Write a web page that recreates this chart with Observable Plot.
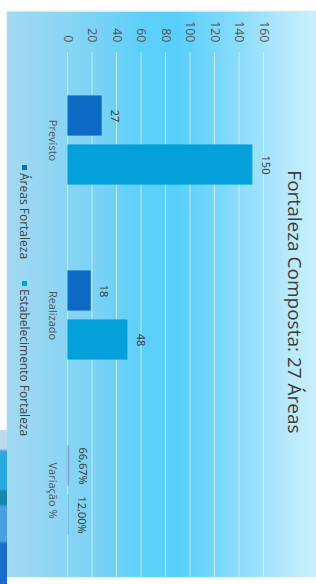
<!DOCTYPE html>
<html><head><meta charset="utf-8">
<script src="https://cdn.jsdelivr.net/npm/d3@7"></script>
<script src="https://cdn.jsdelivr.net/npm/@observablehq/plot@0.6"></script>
<style>
html,body{margin:0;padding:0;background:#fff;overflow:hidden;width:316px;height:584px}
#rot{position:absolute;left:0;top:0;width:584px;height:316px;transform-origin:0 0;transform:translate(316px,0) rotate(90deg);font-family:"Open Sans",sans-serif}
#panel{position:absolute;left:12px;top:0;width:565px;height:309px;
  background:linear-gradient(to bottom,#cbf0fd 0%,#b5e8fc 10%,#8adcfb 25%,#58cffb 45%,#5acffa 55%,#78d2f6 70%,#90d5f3 85%,#a2daf2 100%);
  box-shadow:-1px 0 2px rgba(0,0,0,0.15)}
#deco{position:absolute;left:430px;top:309px;width:154px;height:7px;
  background:linear-gradient(to right,#bcd9ee 0%,#bcd9ee 12%,#2aa8e0 14%,#2aa8e0 38%,#1488b0 40%,#1488b0 48%,#4aa0e0 50%,#4aa0e0 72%,#1a6cc8 74%,#1a6cc8 100%)}
#chart{position:absolute;left:0;top:0}
#title{position:absolute;left:12px;width:580px;top:8px;text-align:center;font-size:19px;color:#3c3c3c;white-space:nowrap}
#legend{position:absolute;top:284px;left:165px;font-size:12px;color:#444;display:flex;gap:22px;white-space:nowrap;line-height:15px}
#legend span.sw{display:inline-block;width:5px;height:5px;margin-right:3px;vertical-align:middle;position:relative;top:-1px}
</style>
</head><body>
<div id="rot">
  <div id="panel"></div>
  <div id="deco"></div>
  <div id="chart"></div>
  <div id="title">Fortaleza Composta: 27 Áreas</div>
  <div id="legend"></div>
</div>
<script>
const categories = ["Previsto", "Realizado", "Variação %"];
const seriesNames = ["Áreas Fortaleza", "Estabelecimento Fortaleza"];
const areasValues = [27, 18, 0.6667];
const estabValues = [150, 48, 0.12];
const areasLabels = ["27", "18", "66,67%"];
const estabLabels = ["150", "48", "12,00%"];
const yTicks = [0, 20, 40, 60, 80, 100, 120, 140, 160];

const seriesColors = ["#0d6bc6", "#03a0da"];
const variationColors = ["#8c9fd8", "#74b8e0"];

const rows = [];
categories.forEach((c, i) => {
  rows.push({category: c, series: seriesNames[0], value: areasValues[i], label: areasLabels[i], s: 0});
  rows.push({category: c, series: seriesNames[1], value: estabValues[i], label: estabLabels[i], s: 1});
});
const fillOf = d => d.category === "Variação %" ? variationColors[d.s] : seriesColors[d.s];
const A = rows.filter(d => d.s === 0);
const E = rows.filter(d => d.s === 1);

const chart = Plot.plot({
  width: 584,
  height: 316,
  marginLeft: 52,
  marginRight: 7,
  marginTop: 52,
  marginBottom: 68,
  style: {background: "transparent", fontFamily: "Open Sans, sans-serif", overflow: "visible"},
  x: {domain: categories, paddingInner: 0.5, paddingOuter: 0.25, axis: null},
  y: {domain: [0, 160], axis: null},
  marks: [
    Plot.gridY(yTicks, {stroke: "#e4f5fc", strokeOpacity: 0.7, strokeWidth: 1}),
    Plot.axisY(yTicks, {tickSize: 0, tickPadding: 10, fontSize: 12.5, color: "#555", label: null}),
    Plot.axisX({tickSize: 0, tickPadding: 11, fontSize: 11, color: "#555", label: null}),
    Plot.barY(A, {x: "category", y: "value", fill: fillOf, stroke: fillOf, strokeWidth: 1.2, insetRight: 49}),
    Plot.barY(E, {x: "category", y: "value", fill: fillOf, stroke: fillOf, strokeWidth: 1.2, insetLeft: 49}),
    Plot.text(A, {x: "category", y: "value", text: "label", dx: -24.5, dy: -14, fontSize: 11, fill: "#333"}),
    Plot.text(E, {x: "category", y: "value", text: "label", dx: 24.5, dy: -14, fontSize: 11, fill: "#333"})
  ]
});
document.getElementById("chart").appendChild(chart);

const legend = document.getElementById("legend");
seriesNames.forEach((name, i) => {
  const item = document.createElement("div");
  const sw = document.createElement("span");
  sw.className = "sw";
  sw.style.background = seriesColors[i];
  item.appendChild(sw);
  item.appendChild(document.createTextNode(name));
  legend.appendChild(item);
});
</script>
</body></html>
